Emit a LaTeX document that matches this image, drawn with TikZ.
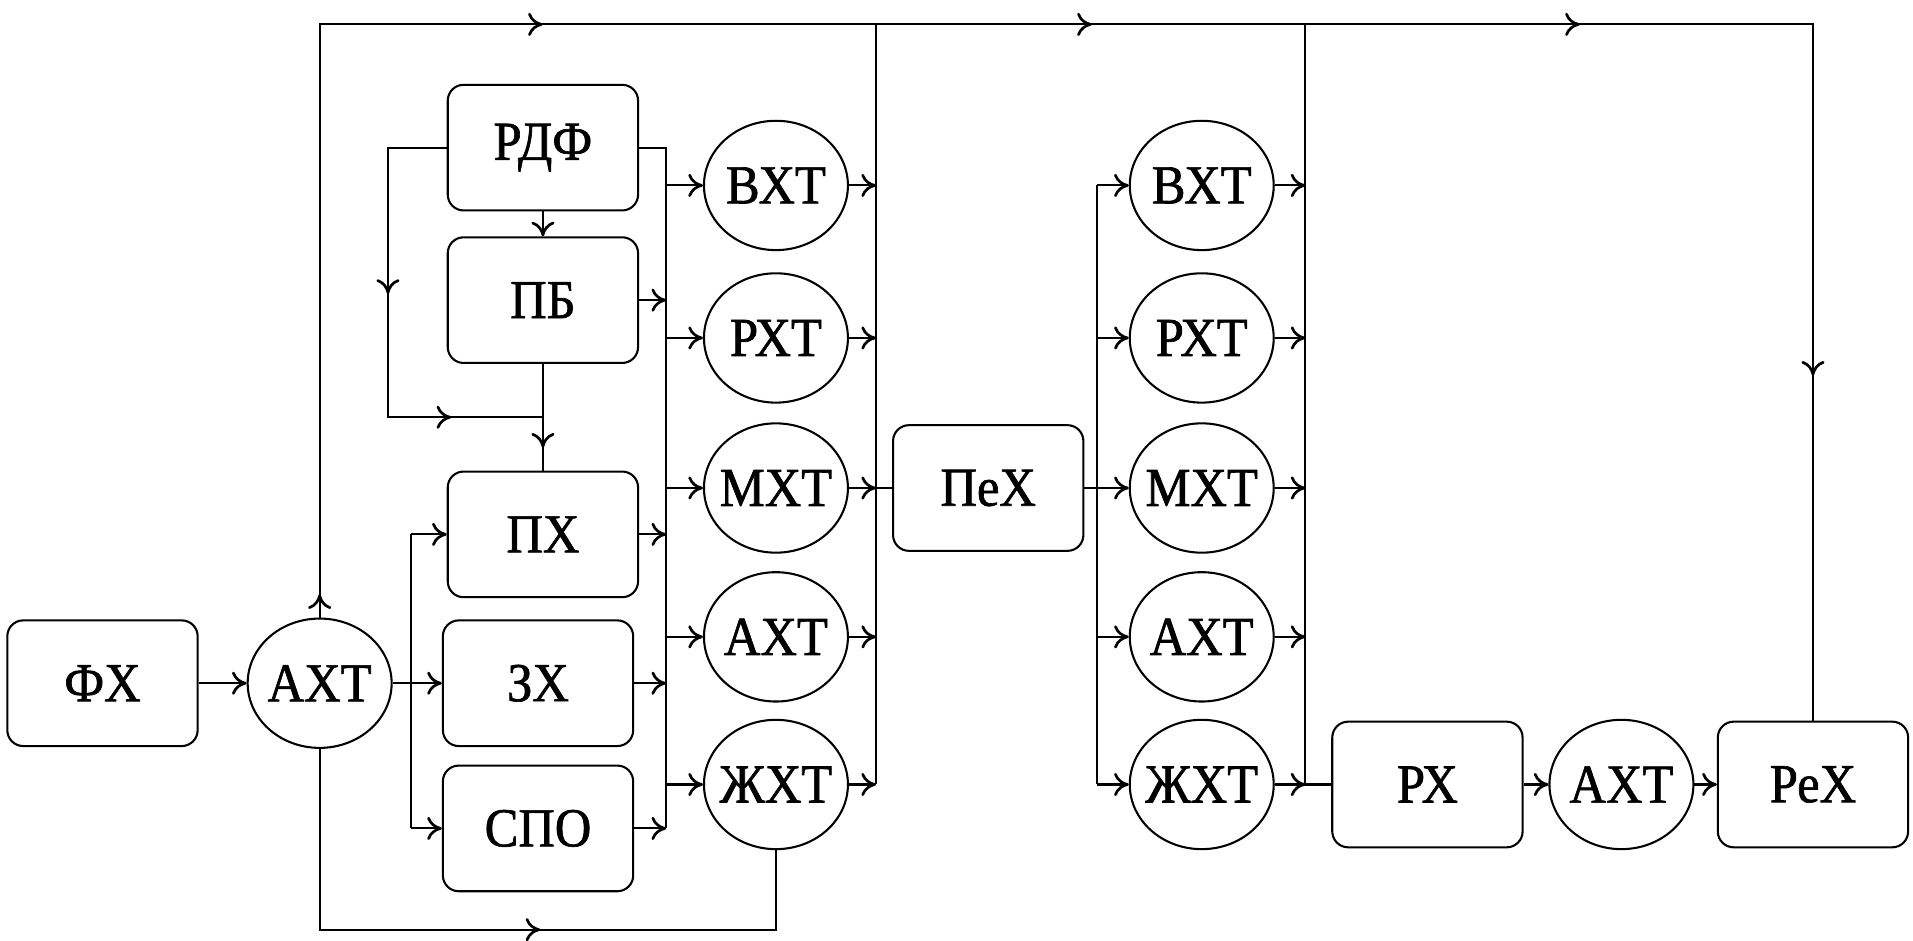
\documentclass[tikz,border=0pt]{standalone}
\usepackage{fontspec}
\setmainfont{Liberation Serif}
\newfontfamily\labfont[FakeStretch=0.92,FakeBold=1.2]{Liberation Serif}
\usetikzlibrary{shapes.geometric,arrows.meta,decorations.markings}
\newcommand{\zlab}[1]{\makebox[0pt]{#1}}
\begin{document}
\begin{tikzpicture}[x=1pt,y=-1pt,line width=1.7pt,
  >={To[length=12pt,width=19pt,line width=2.2pt]},
  bx/.style={draw, rounded corners=13pt, minimum width=156pt, minimum height=103pt, inner sep=0pt, font=\labfont\fontsize{45}{45}\selectfont},
  ell/.style={draw, ellipse, minimum width=118pt, minimum height=106pt, inner sep=0pt, font=\labfont\fontsize{45}{45}\selectfont},
  mk/.style={postaction={decorate,decoration={markings,mark=at position #1 with {\arrow{>}}}}}
]
\useasboundingbox (0,0) rectangle (1568,771);
% nodes
\node[bx] (fx) at (84,560) {ФХ};
\node[ell] (a0) at (262,560) {\zlab{АХТ}};
\node[bx] (rdf) at (445,121) {РДФ};
\node[bx] (pb) at (445,246) {ПБ};
\node[bx] (px) at (445,438) {ПХ};
\node[bx] (zx) at (441,560) {ЗХ};
\node[bx] (spo) at (441,679) {СПО};
\node[ell] (v1) at (636,152) {\zlab{ВХТ}};
\node[ell] (r1) at (636,277) {\zlab{РХТ}};
\node[ell] (m1) at (636,400) {\zlab{МХТ}};
\node[ell] (a1) at (636,522) {\zlab{АХТ}};
\node[ell] (z1) at (636,643) {\zlab{ЖХТ}};
\node[bx] (pex) at (810,400) {ПеХ};
\node[ell] (v2) at (985,152) {\zlab{ВХТ}};
\node[ell] (r2) at (985,277) {\zlab{РХТ}};
\node[ell] (m2) at (985,400) {\zlab{МХТ}};
\node[ell] (a2) at (985,522) {\zlab{АХТ}};
\node[ell] (z2) at (985,643) {\zlab{ЖХТ}};
\node[bx] (rx) at (1170,643) {РХ};
\node[ell] (a3) at (1329,643) {\zlab{АХТ}};
\node[bx] (rex) at (1486,643) {РеХ};
% helper coordinates
\coordinate (ytop) at (0,20);
\coordinate (ybot) at (0,762);
\coordinate (X1) at (718,20);
\coordinate (X2) at (1070,20);
\coordinate (B0) at (337,0);
\coordinate (B1) at (546,0);
\coordinate (B2) at (899,0);
\coordinate (L0) at (318,342);
% connectors
\draw[->] (fx.east) -- (a0.west);
\draw[mk=19pt,mk=669pt,mk=1119pt,mk=1519pt,mk=1998pt] (a0.north) -- (a0.north |- ytop) -- (rex.north |- ytop) -- (rex.north);
\draw (X1) -- (X1 |- z1.east);
\draw (X2) -- (X2 |- z2.east);
\foreach \e in {v1,r1,m1,a1,z1} \draw[->] (\e.east) -- (\e.east -| X1);
\draw (m1.east) -- (pex.west);
\foreach \e in {v2,r2,m2,a2,z2} \draw[->] (\e.east) -- (\e.east -| X2);
\draw (z2.east) -- (rx.west);
\draw (pex.east) -- (pex.east -| B2);
\draw (B2 |- v2.west) -- (B2 |- z2.west);
\foreach \e in {v2,r2,m2,a2,z2} \draw[->] (\e.west -| B2) -- (\e.west);
\draw (rdf.east) -- (rdf.east -| B1) -- (B1 |- spo.east);
\foreach \b in {pb,px,zx,spo} \draw[->] (\b.east) -- (\b.east -| B1);
\foreach \e in {v1,r1,m1,a1,z1} \draw[->] (\e.west -| B1) -- (\e.west);
\draw (a0.east) -- (a0.east -| B0);
\draw (B0 |- px.west) -- (B0 |- spo.west);
\foreach \b in {px,zx,spo} \draw[->] (\b.west -| B0) -- (\b.west);
\draw[->] (rdf.south) -- (pb.north);
\draw[mk=168pt,mk=321pt] (rdf.west) -| (L0) -- (L0 -| pb.south);
\draw[mk=68.5pt] (pb.south) -- (px.north);
\draw[mk=329pt] (a0.south) -- (a0.south |- ybot) -- (z1.south |- ybot) -- (z1.south);
\draw[->] (rx.east) -- (a3.west);
\draw[->] (a3.east) -- (rex.west);
\end{tikzpicture}
\end{document}
